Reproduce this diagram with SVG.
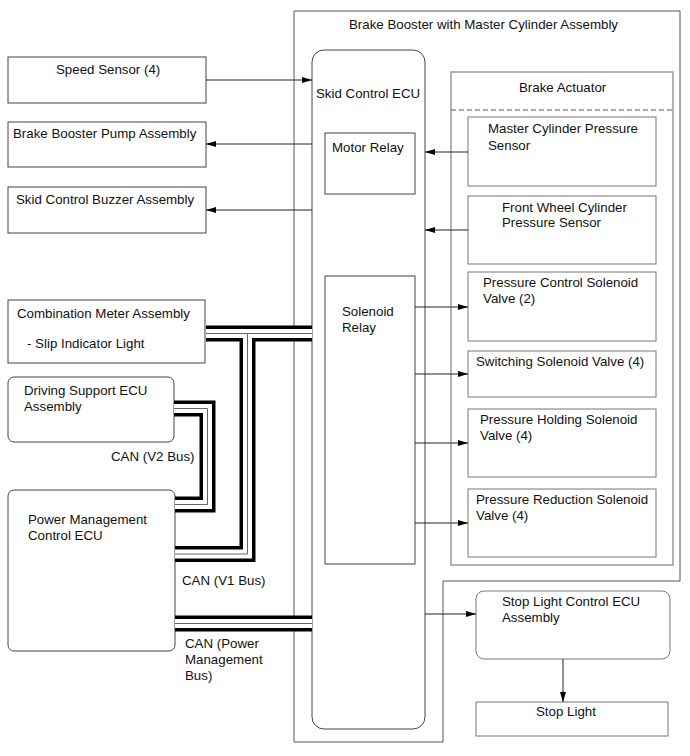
<svg xmlns="http://www.w3.org/2000/svg" width="690" height="756" viewBox="0 0 690 756">
<style>
text{font-family:"Liberation Sans",Arial,sans-serif;font-size:13.3px;fill:#111}
.box{fill:#fff;stroke:#444;stroke-width:1}
.gbox{fill:#fff;stroke:#777;stroke-width:1}
.frame{fill:none;stroke:#555;stroke-width:1}
.act{fill:none;stroke:#999;stroke-width:1.5}
.line{fill:none;stroke:#222;stroke-width:1}
.bk{fill:none;stroke:#000;stroke-width:16;stroke-linejoin:miter}
.wh{fill:none;stroke:#fff;stroke-width:9;stroke-linejoin:miter}
.mid{fill:none;stroke:#666;stroke-width:1;stroke-linejoin:miter}
</style>
<defs>
<marker id="ah" viewBox="0 0 10 6" refX="10" refY="3" markerWidth="10" markerHeight="6" markerUnits="userSpaceOnUse" orient="auto">
<path d="M0,0 L10,3 L0,6 z" fill="#000"/>
</marker>
</defs>
<rect width="690" height="756" fill="#fff"/>

<g id="brake-booster">
<path class="frame" d="M294,11 H680 V581 H443 V742 H294 Z"/>
<text x="349" y="29">Brake Booster with Master Cylinder Assembly</text>
</g>

<g id="brake-actuator">
<rect class="act" x="451" y="72" width="222" height="493"/>
<line x1="451" y1="110" x2="673" y2="110" stroke="#555" stroke-width="1" stroke-dasharray="5,3"/>
<text x="519" y="92">Brake Actuator</text>
</g>

<g id="skid-ecu">
<rect class="box" x="312" y="50" width="113" height="679" rx="12" ry="12"/>
<text x="316" y="98">Skid Control ECU</text>
</g>
<g id="motor-relay">
<rect class="box" x="325" y="133" width="90" height="61"/>
<text x="332" y="152">Motor Relay</text>
</g>
<g id="solenoid-relay">
<rect class="box" x="325" y="276" width="90" height="288"/>
<text x="342" y="316">Solenoid</text>
<text x="342" y="332">Relay</text>
</g>

<g id="speed-sensor">
<rect class="box" x="8" y="57" width="198" height="46"/>
<text x="56" y="74">Speed Sensor (4)</text>
</g>
<g id="brake-booster-pump">
<rect class="box" x="8" y="122" width="198" height="45"/>
<text x="13" y="138">Brake Booster Pump Assembly</text>
</g>
<g id="skid-buzzer">
<rect class="box" x="8" y="187" width="198" height="46"/>
<text x="16" y="204">Skid Control Buzzer Assembly</text>
</g>
<g id="combination-meter">
<rect class="box" x="8" y="300" width="197" height="63"/>
<text x="17" y="318">Combination Meter Assembly</text>
<text x="27" y="348">- Slip Indicator Light</text>
</g>
<g id="driving-support-ecu">
<rect class="box" x="8" y="377" width="166" height="65" rx="6" ry="6"/>
<text x="24" y="395">Driving Support ECU</text>
<text x="24" y="411">Assembly</text>
</g>
<g id="power-management-ecu">
<rect class="box" x="8" y="490" width="167" height="161" rx="6" ry="6"/>
<text x="28" y="524">Power Management</text>
<text x="28" y="540">Control ECU</text>
</g>

<g id="mc-pressure-sensor">
<rect class="gbox" x="468" y="117" width="188" height="69"/>
<text x="488" y="133">Master Cylinder Pressure</text>
<text x="488" y="150">Sensor</text>
</g>
<g id="fw-pressure-sensor">
<rect class="gbox" x="468" y="196" width="188" height="68"/>
<text x="502" y="212">Front Wheel Cylinder</text>
<text x="502" y="227">Pressure Sensor</text>
</g>
<g id="pressure-control-valve">
<rect class="gbox" x="468" y="272" width="188" height="69"/>
<text x="483" y="287">Pressure Control Solenoid</text>
<text x="483" y="303">Valve (2)</text>
</g>
<g id="switching-valve">
<rect class="gbox" x="468" y="351" width="188" height="46"/>
<text x="476" y="366">Switching Solenoid Valve (4)</text>
</g>
<g id="pressure-holding-valve">
<rect class="gbox" x="468" y="409" width="188" height="68"/>
<text x="480" y="424">Pressure Holding Solenoid</text>
<text x="480" y="440">Valve (4)</text>
</g>
<g id="pressure-reduction-valve">
<rect class="gbox" x="468" y="489" width="188" height="68"/>
<text x="476" y="504">Pressure Reduction Solenoid</text>
<text x="476" y="520">Valve (4)</text>
</g>

<g id="stop-light-ecu">
<rect class="gbox" x="476" y="591" width="194" height="68" rx="8" ry="8"/>
<text x="502" y="606">Stop Light Control ECU</text>
<text x="502" y="622">Assembly</text>
</g>
<g id="stop-light">
<rect class="gbox" x="476" y="702" width="192" height="34"/>
<text x="536" y="716">Stop Light</text>
</g>

<g id="connectors">
<line class="line" x1="206" y1="80" x2="312" y2="80" marker-end="url(#ah)"/>
<line class="line" x1="312" y1="144" x2="206" y2="144" marker-end="url(#ah)"/>
<line class="line" x1="312" y1="210" x2="206" y2="210" marker-end="url(#ah)"/>
<line class="line" x1="468" y1="152" x2="425" y2="152" marker-end="url(#ah)"/>
<line class="line" x1="468" y1="230" x2="425" y2="230" marker-end="url(#ah)"/>
<line class="line" x1="415" y1="307" x2="468" y2="307" marker-end="url(#ah)"/>
<line class="line" x1="415" y1="374" x2="468" y2="374" marker-end="url(#ah)"/>
<line class="line" x1="415" y1="443" x2="468" y2="443" marker-end="url(#ah)"/>
<line class="line" x1="415" y1="523" x2="468" y2="523" marker-end="url(#ah)"/>
<line class="line" x1="425" y1="614" x2="476" y2="614" marker-end="url(#ah)"/>
<line class="line" x1="563" y1="659" x2="563" y2="702" marker-end="url(#ah)"/>

<path class="bk" d="M206,333.5 H312"/>
<path class="bk" d="M175,554 H247.5 V333.5"/>
<path class="bk" d="M174,408.5 H207.5 V504.5 H175"/>
<path class="bk" d="M175,623.5 H312"/>
<path class="wh" d="M206,333.5 H312"/>
<path class="wh" d="M175,554 H247.5 V333.5"/>
<path class="wh" d="M174,408.5 H207.5 V504.5 H175"/>
<path class="wh" d="M175,623.5 H312"/>
<path class="mid" d="M206,333.5 H312"/>
<path class="mid" d="M175,554 H247.5 V333.5"/>
<path class="mid" d="M174,408.5 H207.5 V504.5 H175"/>
<path class="mid" d="M175,623.5 H312"/>

<text x="111" y="461">CAN (V2 Bus)</text>
<text x="182" y="585">CAN (V1 Bus)</text>
<text x="185" y="648">CAN (Power</text>
<text x="185" y="664">Management</text>
<text x="185" y="680">Bus)</text>
</g>
</svg>
